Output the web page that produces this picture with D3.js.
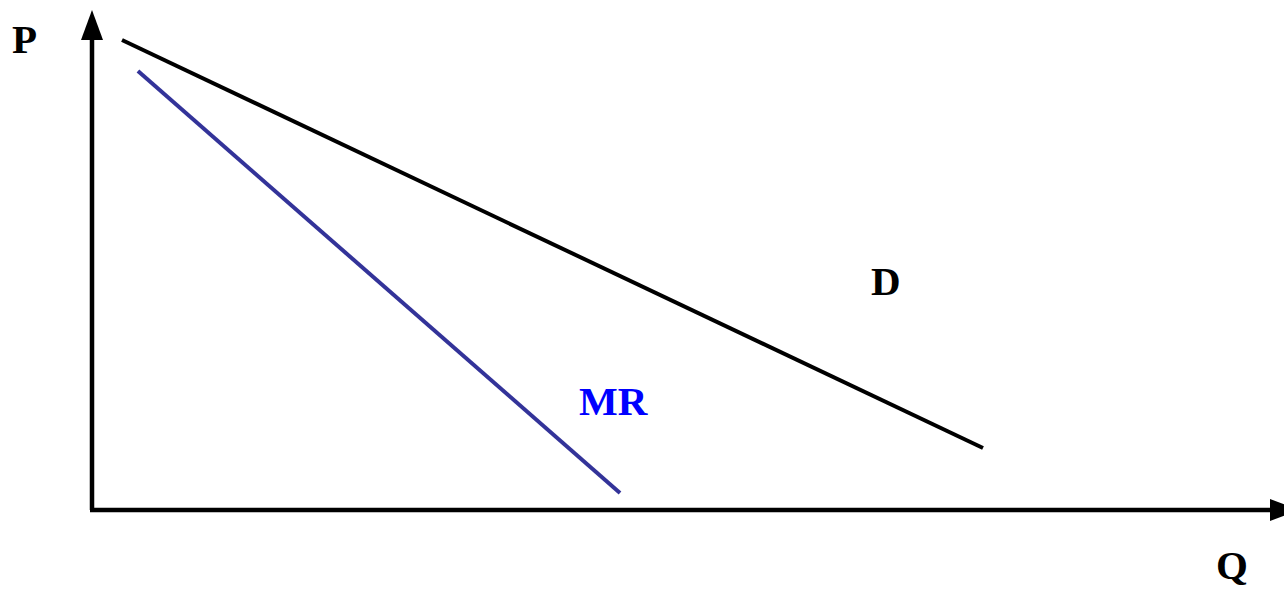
<!DOCTYPE html>
<html><head><meta charset="utf-8">
<script src="https://cdn.jsdelivr.net/npm/d3@7"></script>
<style>html,body{margin:0;padding:0;background:#fff;overflow:hidden}</style>
</head><body>
<svg id="c" width="1284" height="590"></svg>
<script>
// Data (Q, P) in abstract units
const demandQ = [0.25, 7.425];
const demandP = [9.4, 1.24];
const mrQ = [0.383, 4.4];
const mrP = [8.78, 0.34];
const axisLabels = ["P", "Q"];
const curveLabels = ["D", "MR"];

const svg = d3.select("#c");
const x = d3.scaleLinear().domain([0, 10]).range([92, 1292]);
const y = d3.scaleLinear().domain([0, 10]).range([510, 10]);

const line = d3.line().x(d => x(d[0])).y(d => y(d[1]));

// Axes
svg.append("line").attr("x1", x(0)).attr("y1", y(0)).attr("x2", x(0)).attr("y2", y(10) + 28)
  .attr("stroke", "#000").attr("stroke-width", 4.5);
svg.append("path").attr("d", `M${x(0)},${y(10)} L${x(0)-11},${y(10)+30} L${x(0)+11},${y(10)+30} Z`).attr("fill", "#000");
svg.append("line").attr("x1", x(0) - 2).attr("y1", y(0)).attr("x2", 1272).attr("y2", y(0))
  .attr("stroke", "#000").attr("stroke-width", 4.5);
svg.append("path").attr("d", `M1300,${y(0)} L1270,${y(0)-11} L1270,${y(0)+11} Z`).attr("fill", "#000");

// Curves
svg.append("path").datum(demandQ.map((q, i) => [q, demandP[i]])).attr("d", line)
  .attr("fill", "none").attr("stroke", "#000").attr("stroke-width", 4);
svg.append("path").datum(mrQ.map((q, i) => [q, mrP[i]])).attr("d", line)
  .attr("fill", "none").attr("stroke", "#333399").attr("stroke-width", 4);

const font = "'Liberation Serif','Times New Roman',serif";
function label(t, px, py, col) {
  svg.append("text").attr("x", px).attr("y", py).text(t)
    .attr("font-family", font).attr("font-weight", "bold").attr("font-size", 41).attr("fill", col);
}
label(axisLabels[0], 12, 53, "#000");
label(axisLabels[1], 1216, 579, "#000");
label(curveLabels[0], 871, 295, "#000");
label(curveLabels[1], 579, 415, "#0000ff");
</script>
</body></html>
